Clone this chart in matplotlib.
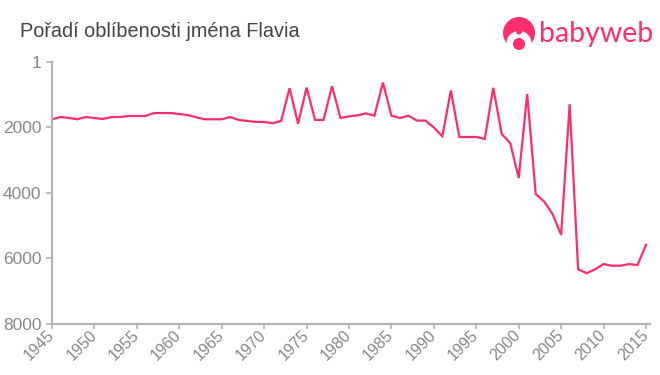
import matplotlib
matplotlib.use("Agg")
import matplotlib.pyplot as plt
from matplotlib.patches import Circle, Ellipse
from matplotlib.transforms import ScaledTranslation

years = list(range(1945, 2016))
ranks = [1750, 1680, 1710, 1750, 1680, 1710, 1740, 1680, 1680, 1650, 1650, 1650, 1560, 1560, 1560,
         1590, 1620, 1690, 1750, 1750, 1750, 1680, 1770, 1800, 1830, 1830, 1870, 1800, 800, 1890,
         780, 1770, 1770, 740, 1710, 1660, 1630, 1570, 1640, 630, 1640, 1710, 1640, 1790, 1790,
         2000, 2270, 870, 2290, 2290, 2290, 2350, 790, 2200, 2480, 3540, 980, 4030, 4260, 4650,
         5280, 1290, 6330, 6450, 6330, 6170, 6220, 6220, 6170, 6200, 5580]
y_ticks = [1, 2000, 4000, 6000, 8000]
x_ticks = list(range(1945, 2016, 5))
title = "Pořadí oblíbenosti jména Flavia"
brand = "babyweb"

W, H = 660, 375
PINK = "#ff2d6b"
GREY = "#888888"
AXIS = "#b4b4b4"
plt.rcParams["font.family"] = ["Liberation Sans", "DejaVu Sans"]

fig = plt.figure(figsize=(W / 100, H / 100), dpi=100)
ax = fig.add_axes([52 / W, 1 - 324 / H, (650 - 52) / W, (324 - 62) / H])
ax.plot(years, ranks, color=PINK, lw=1.6, solid_joinstyle="miter", clip_on=False)
ax.set_xlim(1945, 1945 + (650 - 52) / ((646 - 52) / 70))
ax.set_ylim(8000, 1)
ax.set_yticks(y_ticks)
ax.set_xticks(x_ticks)
ax.tick_params(axis="y", labelsize=12.5, labelcolor=GREY, color=AXIS, length=4.5, width=1.2, pad=3)
ax.tick_params(axis="x", color=AXIS, length=3.5, width=1.2, pad=2)
ax.set_xticklabels([str(v) for v in x_ticks], rotation=45, ha="right", va="top",
                   rotation_mode="anchor", fontsize=11.5, color=GREY)
offset = ScaledTranslation(-5.5 / 100, 4.5 / 100, fig.dpi_scale_trans)
for lab in ax.get_xticklabels():
    lab.set_transform(lab.get_transform() + offset)
for s in ("top", "right"):
    ax.spines[s].set_visible(False)
for s in ("left", "bottom"):
    ax.spines[s].set_color(AXIS)
    ax.spines[s].set_linewidth(1.6)

fig.text(20 / W, 1 - 31.5 / H, title, fontsize=14.3, color="#444444", ha="left", va="center")

lg = fig.add_axes([0, 0, 1, 1], facecolor="none")
lg.set_xlim(0, W)
lg.set_ylim(H, 0)
lg.axis("off")
lg.add_patch(Circle((519, 33), 16, color=PINK, lw=0))
lg.add_patch(Ellipse((519, 43), 25, 24, color="white", lw=0))
lg.add_patch(Ellipse((519, 31.5), 6, 6, color=PINK, lw=0))
lg.add_patch(Circle((519, 44), 6, color=PINK, lw=0))
lg.text(539, 34, brand, fontsize=20.5, color=PINK, family="Lato", ha="left", va="center")

fig.savefig("out.png", dpi=100)
